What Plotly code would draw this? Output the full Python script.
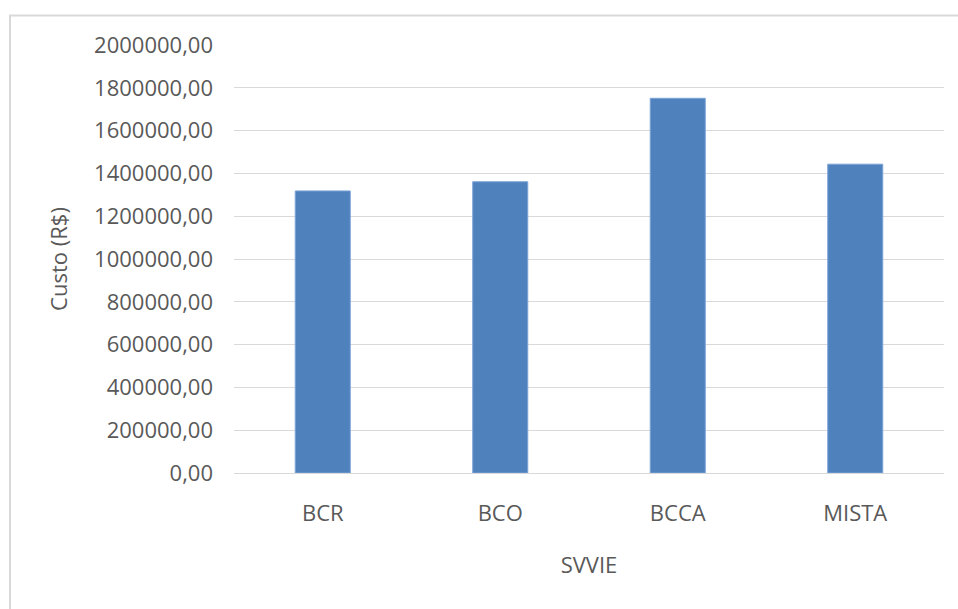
import plotly.graph_objects as go

categories = ["BCR", "BCO", "BCCA", "MISTA"]
custo = [1318000, 1361000, 1751000, 1443000]
y_ticks = [0, 200000, 400000, 600000, 800000, 1000000, 1200000, 1400000, 1600000, 1800000, 2000000]

W, H = 958, 609
L, R, T, B = 234, 14, 45, 136
pw, ph = W - L - R, H - T - B

def px(x):
    return (x - L) / pw

def py(y):
    return (H - B - y) / ph

FONT = "Open Sans"
TXT = "#595959"
FS = 22

fig = go.Figure(
    go.Bar(
        x=categories,
        y=custo,
        marker=dict(color="#4F81BD", line=dict(color="#7BA3D6", width=1)),
        width=0.31,
    )
)

fig.update_layout(
    width=W,
    height=H,
    margin=dict(l=L, r=R, t=T, b=B, autoexpand=False),
    paper_bgcolor="white",
    plot_bgcolor="white",
    separators=",.",
    showlegend=False,
    font=dict(family=FONT, size=FS, color=TXT),
    shapes=[
        dict(
            type="rect", xref="paper", yref="paper",
            x0=px(10), x1=px(975), y0=py(625), y1=py(15.5),
            line=dict(color="#d9d9d9", width=2), fillcolor="rgba(0,0,0,0)", layer="below",
        )
    ],
)

fig.update_yaxes(
    range=[0, 2000000],
    tickvals=y_ticks,
    tickformat=".2f",
    showgrid=True,
    gridcolor="#d9d9d9",
    gridwidth=1,
    zeroline=False,
    showline=False,
    ticks="",
    ticklabelstandoff=20,
    tickfont=dict(family=FONT, size=FS, color=TXT),
    title=dict(text="Custo (R$)", font=dict(family=FONT, size=FS, color=TXT), standoff=20),
    automargin=False,
    fixedrange=True,
)

fig.update_xaxes(
    showgrid=False,
    showline=True,
    linecolor="#d9d9d9",
    linewidth=1,
    ticks="",
    ticklabelstandoff=21,
    tickfont=dict(family=FONT, size=FS, color=TXT),
    title=dict(text="SVVIE", font=dict(family=FONT, size=FS, color=TXT), standoff=31),
    automargin=False,
    fixedrange=True,
)

fig.write_html("out.html")
